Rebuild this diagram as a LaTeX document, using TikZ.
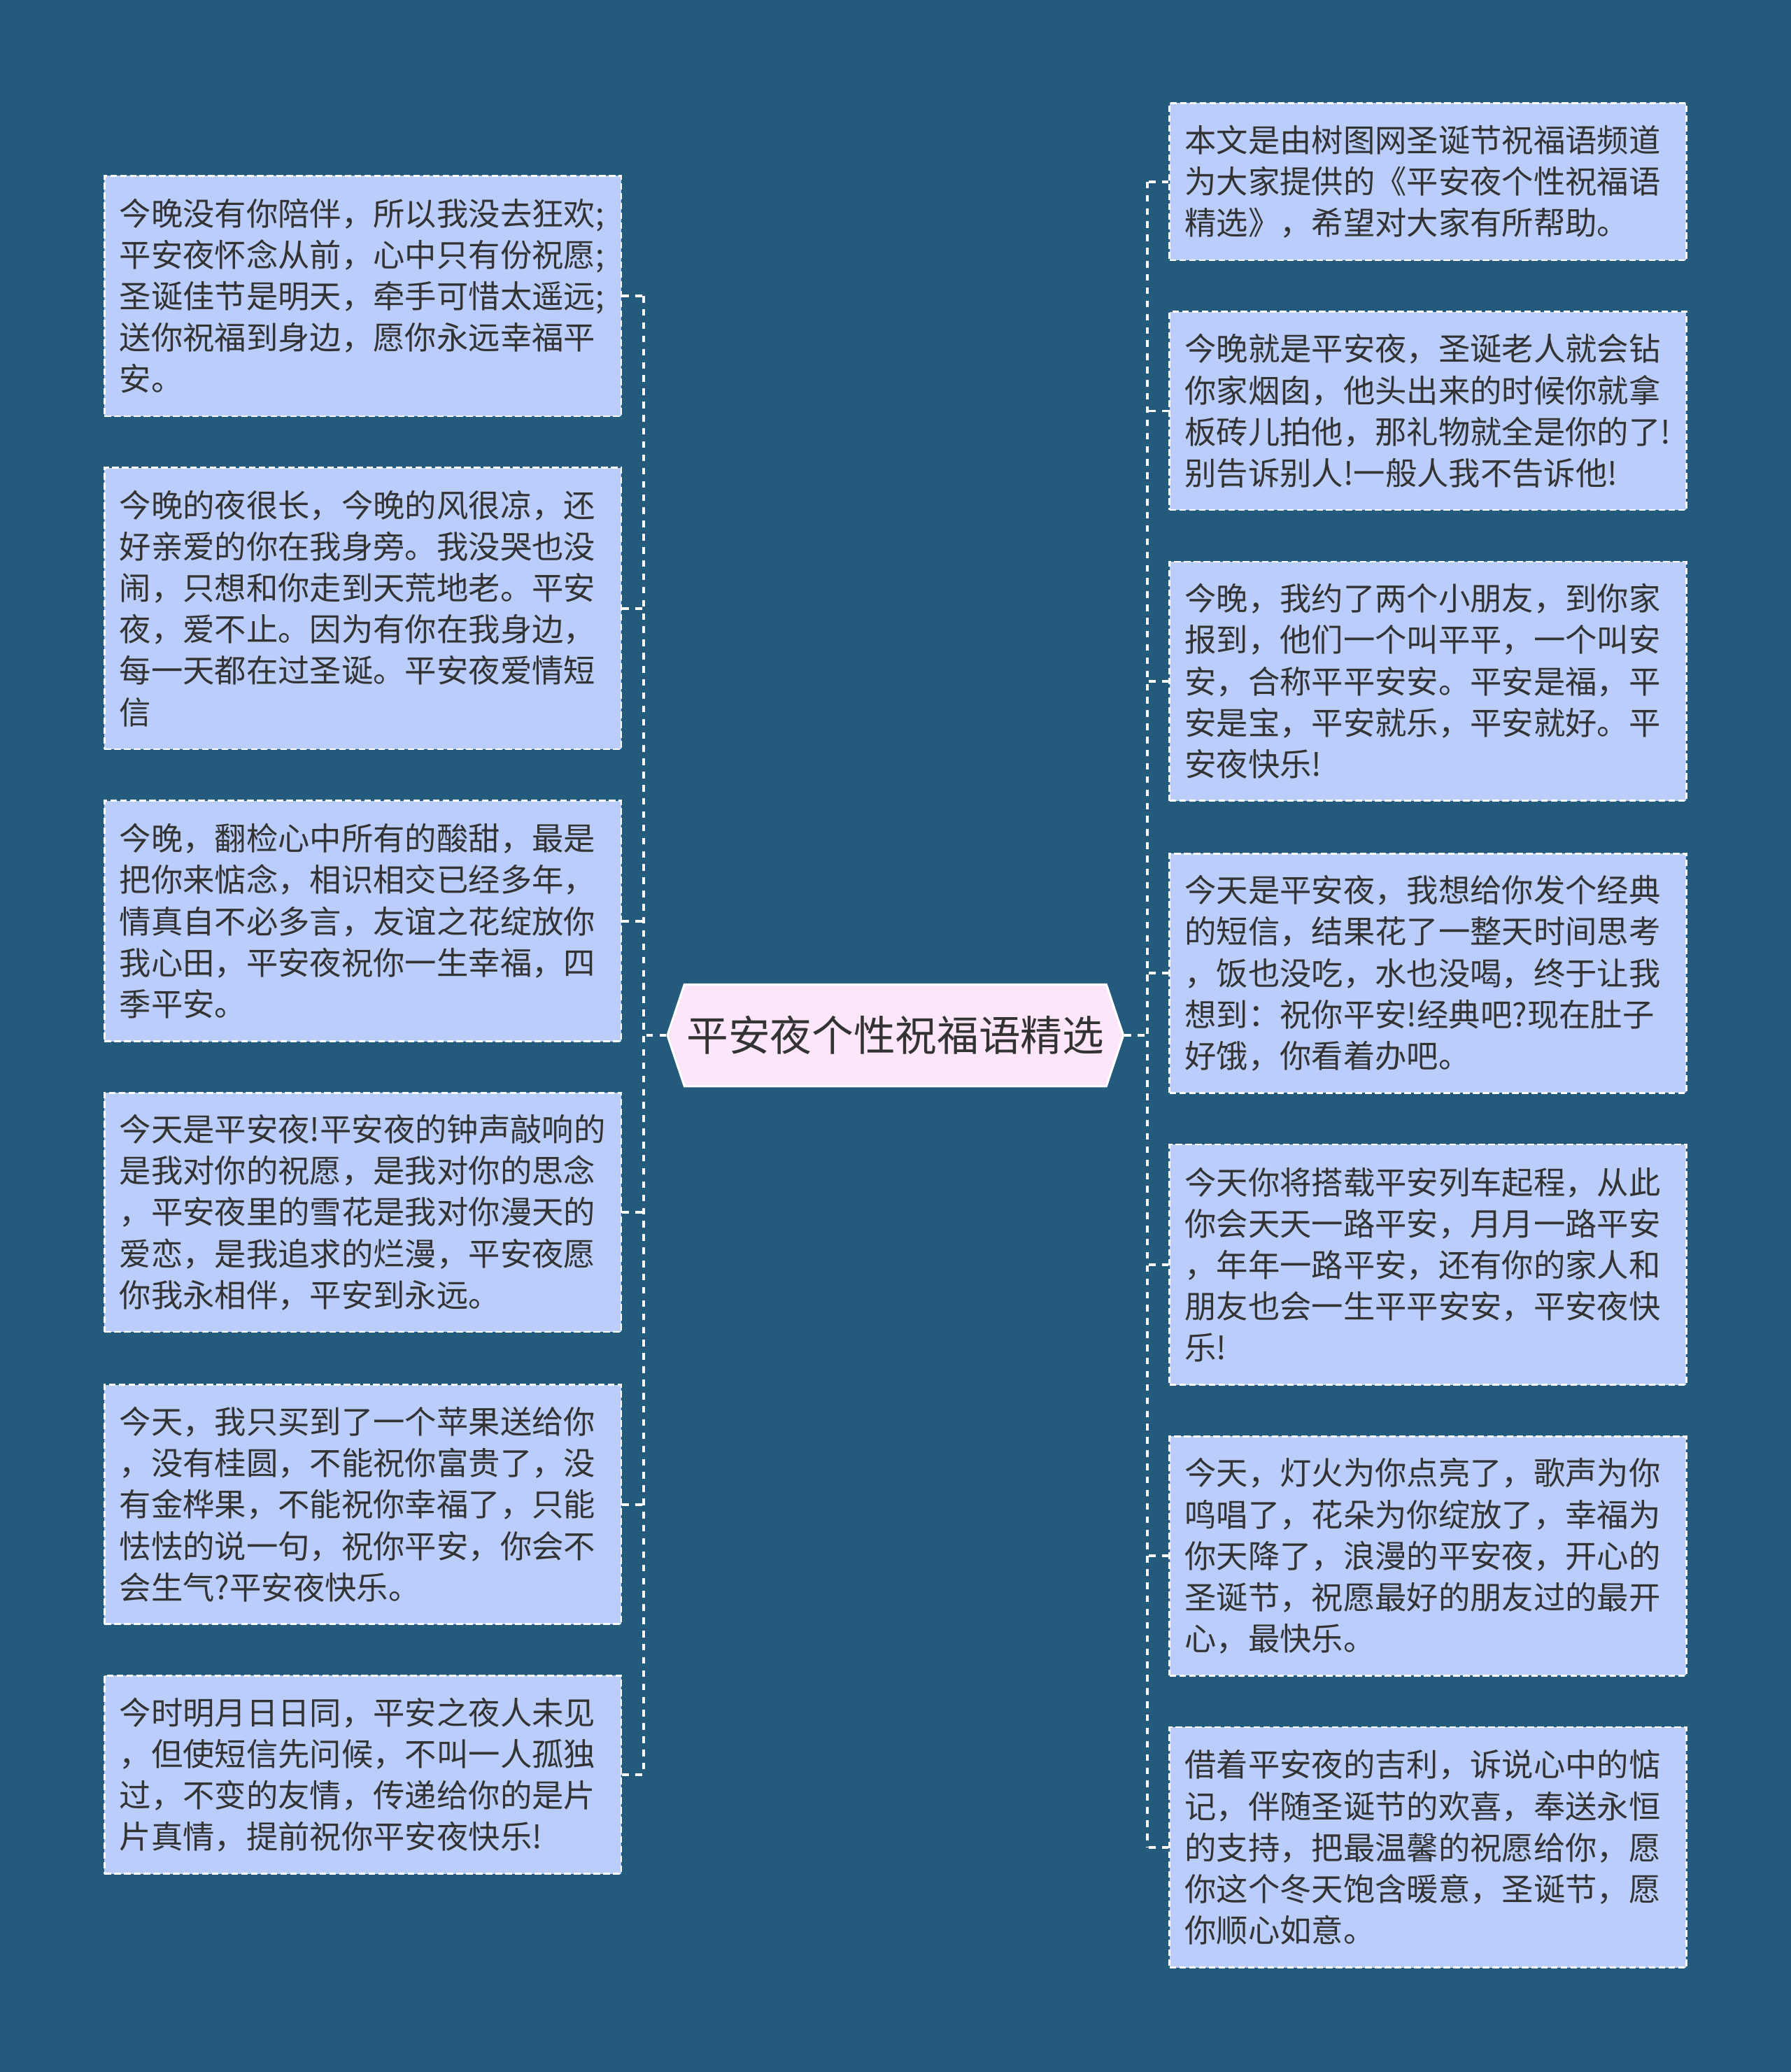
\documentclass[tikz,border=0pt]{standalone}
\usepackage{fontspec}
\usetikzlibrary{shapes.symbols}
\newfontfamily\cjk{Noto Sans CJK SC}
\definecolor{bgblue}{HTML}{245A7B}
\definecolor{cardfill}{HTML}{BACDFB}
\definecolor{hubfill}{HTML}{FDE6F9}
\definecolor{inktext}{HTML}{333333}
\tikzset{
  card/.style={draw=white, dash pattern=on 2.5pt off 1.2pt, line width=0.7pt,
               fill=cardfill, text=inktext, minimum width=195.5pt,
               text width=184pt, align=left, inner xsep=5.75pt, inner ysep=0pt,
               font=\cjk\fontsize{12pt}{15.65pt}\selectfont},
  hub/.style={shape=signal, signal to=west and east, signal pointer angle=143,
              draw=white, line width=0.8pt, fill=hubfill, text=inktext,
              minimum width=172.5pt, minimum height=38.5pt, inner sep=0pt,
              font=\cjk\fontsize{15.8pt}{18pt}\selectfont},
  wire/.style={draw=white, line width=1pt, dash pattern=on 2.5pt off 2.5pt},
}

\begin{document}
\begin{tikzpicture}[x=0.5pt, y=-0.5pt]

\fill[bgblue] (0,0) rectangle (1355,1568);
\useasboundingbox (0,0) rectangle (1355,1568);

\node[hub] (hub) at (677.5, 783.5) {平安夜个性祝福语精选};

% left column
\foreach \i/\y/\h/\txt in {
  1/224/91/{今晚没有你陪伴，所以我没去狂欢;\\平安夜怀念从前，心中只有份祝愿;\\圣诞佳节是明天，牵手可惜太遥远;\\送你祝福到身边，愿你永远幸福平\\安。},
  2/460.5/106.5/{今晚的夜很长，今晚的风很凉，还\\好亲爱的你在我身旁。我没哭也没\\闹，只想和你走到天荒地老。平安\\夜，爱不止。因为有你在我身边，\\每一天都在过圣诞。平安夜爱情短\\信},
  3/697/91/{今晚，翻检心中所有的酸甜，最是\\把你来惦念，相识相交已经多年，\\情真自不必多言，友谊之花绽放你\\我心田，平安夜祝你一生幸福，四\\季平安。},
  4/917.5/90.5/{今天是平安夜!平安夜的钟声敲响的\\是我对你的祝愿，是我对你的思念\\，平安夜里的雪花是我对你漫天的\\爱恋，是我追求的烂漫，平安夜愿\\你我永相伴，平安到永远。},
  5/1138.5/90.5/{今天，我只买到了一个苹果送给你\\，没有桂圆，不能祝你富贵了，没\\有金桦果，不能祝你幸福了，只能\\怯怯的说一句，祝你平安，你会不\\会生气?平安夜快乐。},
  6/1343/75/{今时明月日日同，平安之夜人未见\\，但使短信先问候，不叫一人孤独\\过，不变的友情，传递给你的是片\\片真情，提前祝你平安夜快乐!}}{
  \node[card, minimum height=\h pt] (l\i) at (274.5, \y) {\txt};
}

% right column
\foreach \i/\y/\h/\txt in {
  1/137.5/59.5/{本文是由树图网圣诞节祝福语频道\\为大家提供的《平安夜个性祝福语\\精选》，希望对大家有所帮助。},
  2/311/75/{今晚就是平安夜，圣诞老人就会钻\\你家烟囱，他头出来的时候你就拿\\板砖儿拍他，那礼物就全是你的了!\\别告诉别人!一般人我不告诉他!},
  3/515.5/90.5/{今晚，我约了两个小朋友，到你家\\报到，他们一个叫平平，一个叫安\\安，合称平平安安。平安是福，平\\安是宝，平安就乐，平安就好。平\\安夜快乐!},
  4/736.5/90.5/{今天是平安夜，我想给你发个经典\\的短信，结果花了一整天时间思考\\，饭也没吃，水也没喝，终于让我\\想到：祝你平安!经典吧?现在肚子\\好饿，你看着办吧。},
  5/957/91/{今天你将搭载平安列车起程，从此\\你会天天一路平安，月月一路平安\\，年年一路平安，还有你的家人和\\朋友也会一生平平安安，平安夜快\\乐!},
  6/1177.5/90.5/{今天，灯火为你点亮了，歌声为你\\鸣唱了，花朵为你绽放了，幸福为\\你天降了，浪漫的平安夜，开心的\\圣诞节，祝愿最好的朋友过的最开\\心，最快乐。},
  7/1398/91/{借着平安夜的吉利，诉说心中的惦\\记，伴随圣诞节的欢喜，奉送永恒\\的支持，把最温馨的祝愿给你，愿\\你这个冬天饱含暖意，圣诞节，愿\\你顺心如意。}}{
  \node[card, minimum height=\h pt] (r\i) at (1080.5, \y) {\txt};
}

% connectors
\coordinate (lj) at (487, 783.5);
\coordinate (rj) at (868, 783.5);
\draw[wire] (hub.west) -- (lj);
\draw[wire] (hub.east) -- (rj);
\draw[wire] (l1.east -| lj) -- (l6.east -| lj);
\draw[wire] (r1.west -| rj) -- (r7.west -| rj);
\foreach \i in {1,...,6} \draw[wire] (l\i.east) -- (l\i.east -| lj);
\foreach \i in {1,...,7} \draw[wire] (r\i.west) -- (r\i.west -| rj);

\end{tikzpicture}
\end{document}
